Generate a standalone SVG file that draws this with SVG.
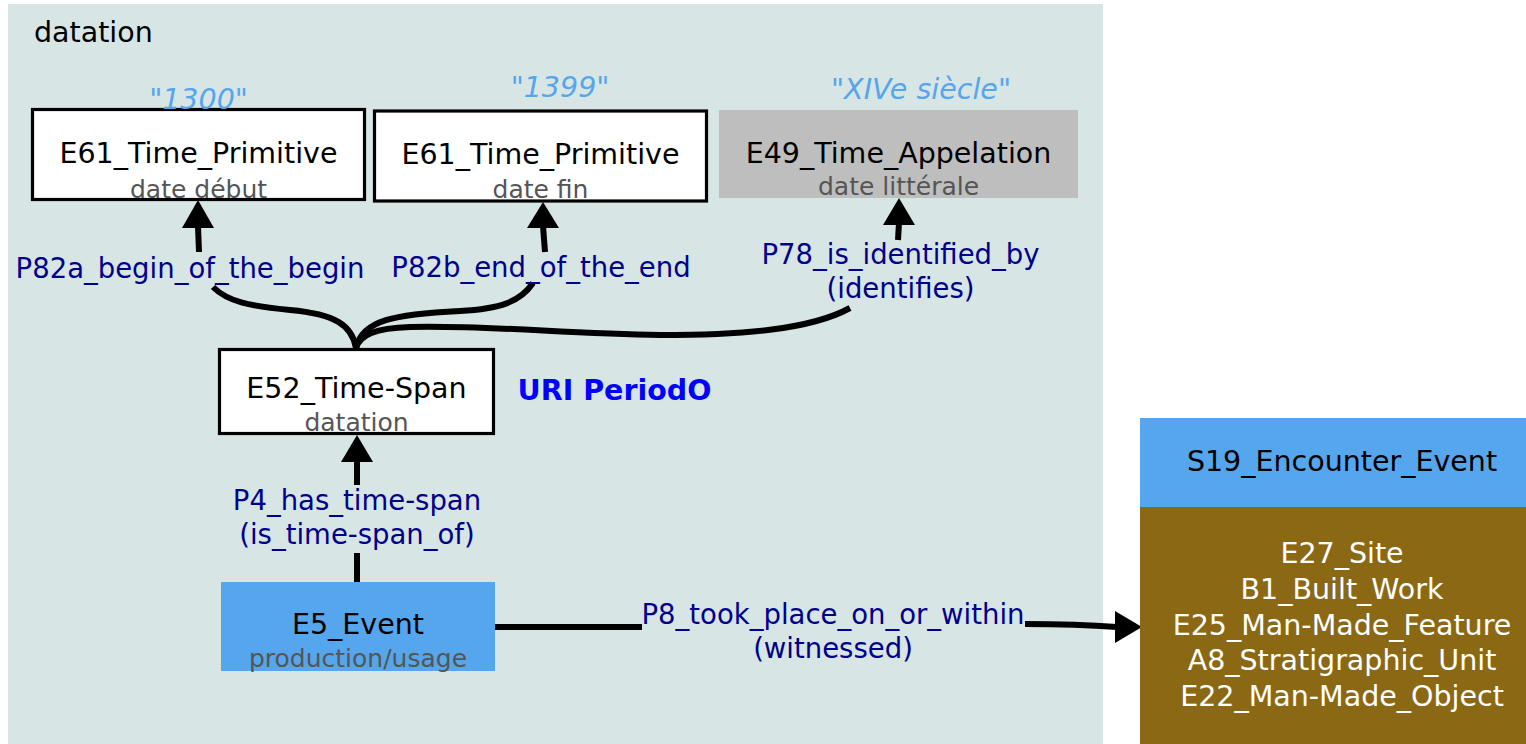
<svg xmlns="http://www.w3.org/2000/svg" width="1526" height="744" viewBox="0 0 1526 744">
<style>
text{font-family:"DejaVu Sans","Liberation Sans",sans-serif;}
.lbl{font-size:28.5px;fill:#000;text-anchor:middle;}
.sub{font-size:25px;fill:#555555;text-anchor:middle;}
.quote{font-size:28.5px;fill:#55a6ed;font-style:italic;text-anchor:middle;}
.elbl{font-size:27.5px;fill:#00008b;text-anchor:middle;}
.edge{fill:none;stroke:#000;stroke-width:6;}
.head{fill:#000;stroke:none;}
.box{fill:#fff;stroke:#000;stroke-width:3.2;}
.white{font-size:28.5px;fill:#fff;text-anchor:middle;}
</style>
<rect x="0" y="0" width="1526" height="744" fill="#ffffff"/>
<g id="cluster_datation">
<rect x="8" y="4" width="1095" height="745" fill="#d7e5e5"/>
<text x="34" y="42" style="font-size:28.5px;fill:#000">datation</text>
</g>
<g id="connectors">
<path class="edge" d="M213,287 C228,302 250,306 290,310 C335,314 352,325 356,348"/>
<path class="edge" d="M199,252 L198,226"/>
<polygon class="head" points="198,200 214,228 182,228"/>
<path class="edge" d="M533,283 C520,302 500,309 460,311 C395,314 362,320 356,348"/>
<path class="edge" d="M545,252 L543,226"/>
<polygon class="head" points="543,202 559,228 527,228"/>
<path class="edge" d="M850,308 C810,330 740,335 660,335 C560,333 480,325 410,327 C375,328 360,335 356,348"/>
<path class="edge" d="M898,240 L899,223"/>
<polygon class="head" points="899,198 915,225 883,225"/>
<path class="edge" d="M357,485 L357,460"/>
<polygon class="head" points="357,435 373,462 341,462"/>
<path class="edge" d="M357,553 L357,582"/>
<path class="edge" d="M495,627 L642,627"/>
<path class="edge" d="M1025,624 C1060,624 1090,625 1117,627"/>
<polygon class="head" points="1142,627 1115,611 1115,643"/>
<text class="elbl" x="190" y="278">P82a_begin_of_the_begin</text>
<text class="elbl" x="541" y="277">P82b_end_of_the_end</text>
<text class="elbl" x="900.5" y="264">P78_is_identified_by</text>
<text class="elbl" x="900.5" y="298">(identifies)</text>
<text class="elbl" x="357" y="510">P4_has_time-span</text>
<text class="elbl" x="357" y="544">(is_time-span_of)</text>
<text class="elbl" x="833" y="624">P8_took_place_on_or_within</text>
<text class="elbl" x="833" y="658">(witnessed)</text>
</g>
<g id="node_e61_begin">
<rect class="box" x="32.5" y="109.5" width="332" height="90"/>
<text class="lbl" x="198.5" y="163">E61_Time_Primitive</text>
<text class="sub" x="198.5" y="198">date début</text>
<text class="quote" x="198.5" y="109">"1300"</text>
</g>
<g id="node_e61_end">
<rect class="box" x="374.5" y="111" width="332" height="90"/>
<text class="lbl" x="540.5" y="164">E61_Time_Primitive</text>
<text class="sub" x="540.5" y="198">date fin</text>
<text class="quote" x="560" y="97">"1399"</text>
</g>
<g id="node_e49">
<rect x="719" y="110" width="359" height="88" fill="#bebebe"/>
<text class="lbl" x="898.5" y="163">E49_Time_Appelation</text>
<text class="sub" x="898.5" y="195">date littérale</text>
<text class="quote" x="921" y="99">"XIVe siècle"</text>
</g>
<g id="node_e52">
<rect class="box" x="219.5" y="349.5" width="274" height="84"/>
<text class="lbl" x="356.5" y="398">E52_Time-Span</text>
<text class="sub" x="356.5" y="431">datation</text>
</g>
<g id="node_uri">
<text x="614.5" y="400" style="font-size:28.5px;font-weight:bold;fill:#0000ff;text-anchor:middle">URI PeriodO</text>
</g>
<g id="node_e5">
<rect x="221" y="582" width="274" height="89" fill="#55a6ed"/>
<text class="lbl" x="358" y="634">E5_Event</text>
<text class="sub" x="358" y="667">production/usage</text>
</g>
<g id="node_s19">
<rect x="1140" y="418" width="404" height="89" fill="#55a6ed"/>
<rect x="1140" y="507" width="404" height="240" fill="#8b6914"/>
<text class="lbl" x="1342" y="471">S19_Encounter_Event</text>
<text class="white" x="1342" y="563">E27_Site</text>
<text class="white" x="1342" y="599">B1_Built_Work</text>
<text class="white" x="1342" y="635">E25_Man-Made_Feature</text>
<text class="white" x="1342" y="670">A8_Stratigraphic_Unit</text>
<text class="white" x="1342" y="706">E22_Man-Made_Object</text>
</g>
</svg>
